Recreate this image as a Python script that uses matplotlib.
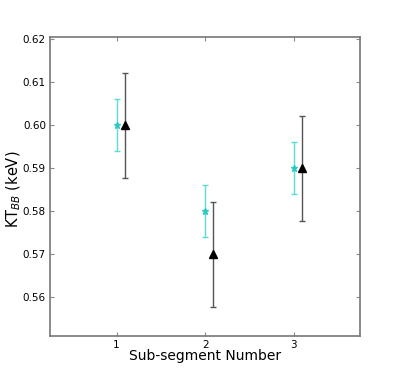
import matplotlib
matplotlib.use('Agg')
import matplotlib.pyplot as plt

# sub-segment measurements
segments = [1, 2, 3]
kt_a = [0.600, 0.580, 0.590]
err_a = [0.006, 0.006, 0.006]
kt_b = [0.600, 0.570, 0.590]
err_b = [0.0122, 0.0122, 0.0122]
offset = 0.09

fig = plt.figure(figsize=(4.01, 3.74), dpi=100)
ax = fig.add_axes([0.125, 0.102, 0.773, 0.799])

xb = [s + offset for s in segments]
ax.errorbar(segments, kt_a, yerr=err_a, fmt='*', color='#20c8c0', ms=5,
            ecolor='#40d8d0', elinewidth=1, capsize=2, alpha=0.85)
ax.errorbar(xb, kt_b, yerr=err_b, fmt='^', color='black', ms=6,
            ecolor='#555555', elinewidth=1, capsize=2)

ax.set_xlim(0.25, 3.75)
ax.set_ylim(0.551, 0.6205)
ax.set_xticks(segments)
ax.set_yticks([0.56, 0.57, 0.58, 0.59, 0.60, 0.61, 0.62])
ax.set_yticklabels(['0.56', '0.57', '0.58', '0.59', '0.60', '0.61', '0.62'])
ax.tick_params(direction='in', top=True, right=True, labelsize=7.5,
               length=3, color='#888888', pad=3)
for sp in ax.spines.values():
    sp.set_color('#777777')
    sp.set_linewidth(1.2)

ax.set_xlabel('Sub-segment Number', fontsize=10)
ax.set_ylabel(r'KT$_{BB}$ (keV)', fontsize=10.5)
ax.xaxis.set_label_coords(0.5, -0.045)
ax.yaxis.set_label_coords(-0.087, 0.49)

fig.savefig('out.png', dpi=100)
